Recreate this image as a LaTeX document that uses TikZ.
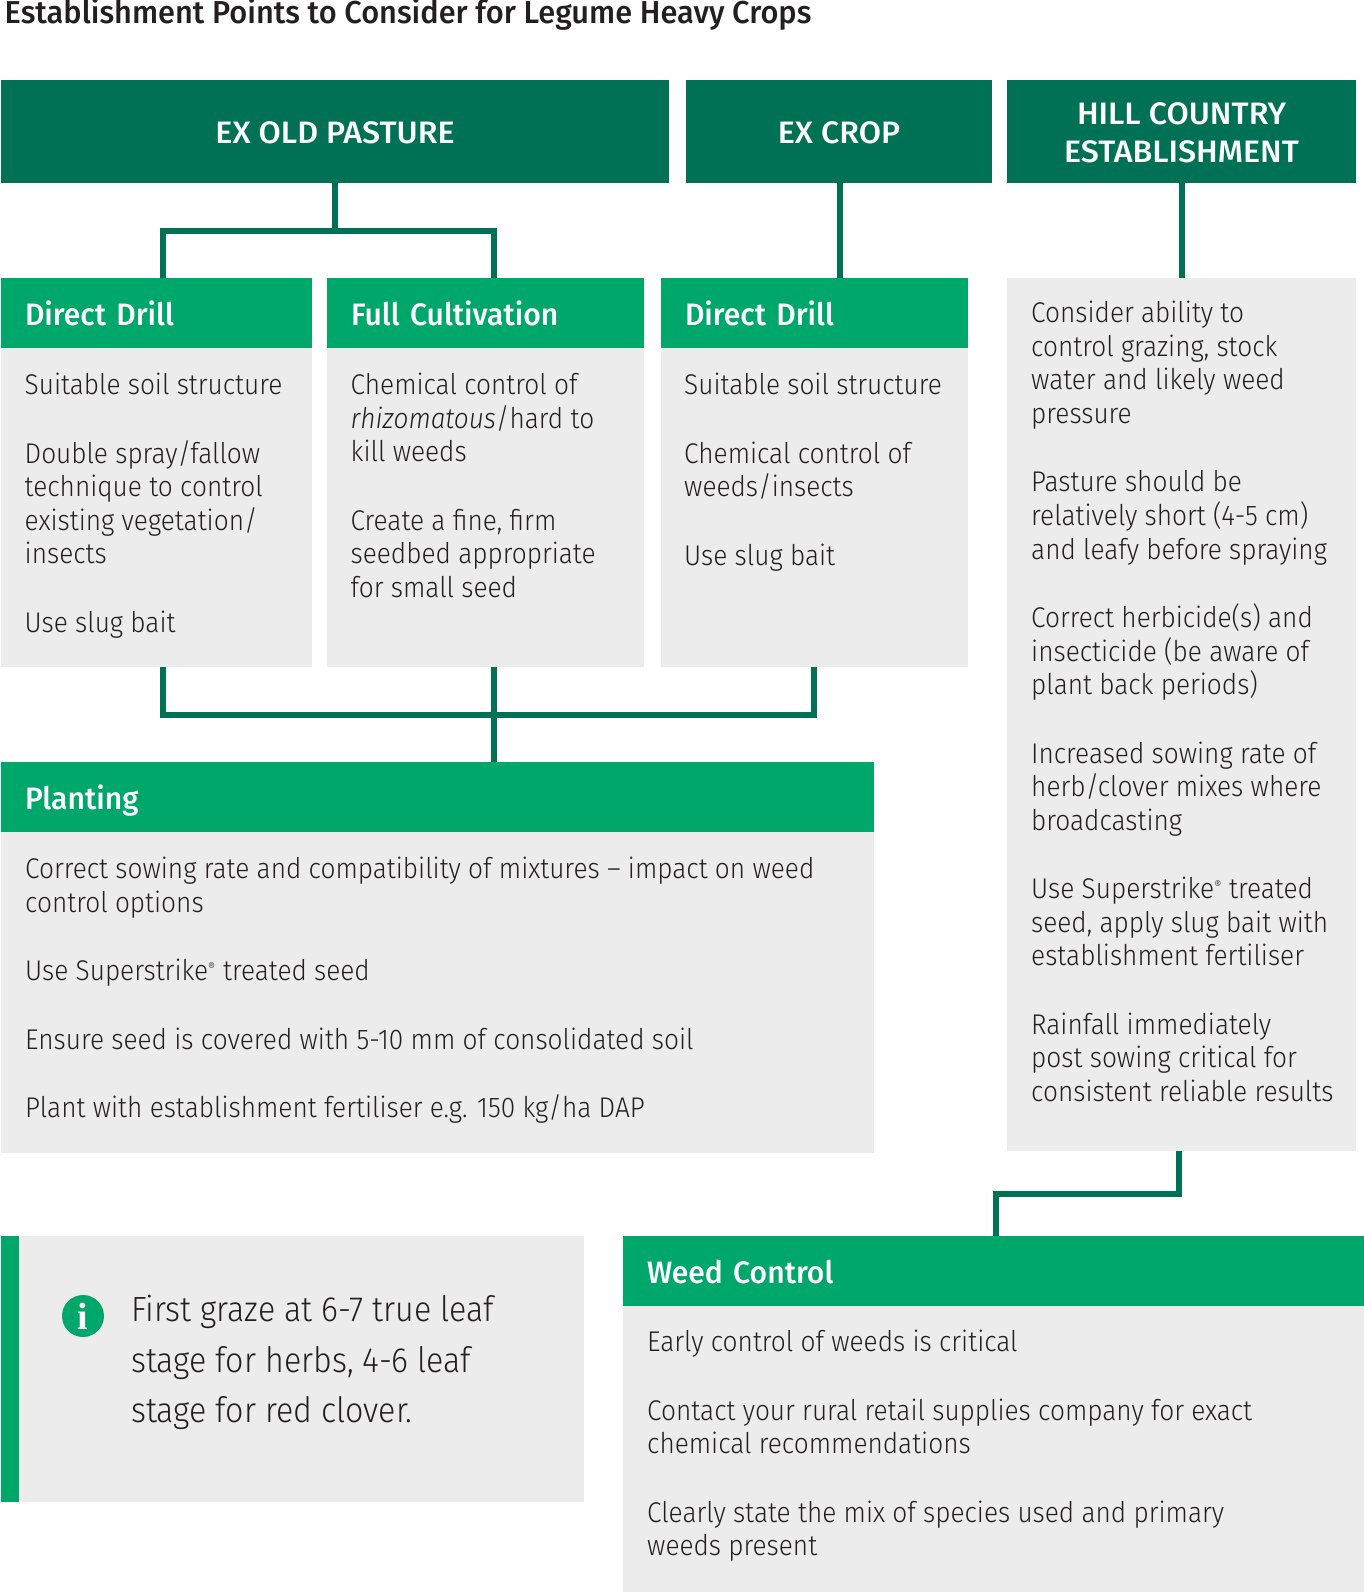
\documentclass[tikz,border=0pt]{standalone}
\usepackage{fontspec}
\setmainfont[FakeStretch=0.92]{Fira Sans Light}
\newfontfamily\headf[FakeStretch=0.97]{Fira Sans Medium}
\newfontfamily\topf[FakeStretch=1.04]{Fira Sans Medium}
\newfontfamily\iconf{Liberation Serif Bold}
\definecolor{dkgreen}{HTML}{007155}
\definecolor{ltgreen}{HTML}{00A76B}
\definecolor{panel}{HTML}{ECECEC}
\definecolor{ink}{HTML}{231F20}
\newcommand{\gap}{\\[34.8pt]}
\newcommand{\reg}{\textsuperscript{\scalebox{0.6}{®}}}
\tikzset{
  box/.style={anchor=north west,inner sep=0pt,outer sep=0pt,draw=none},
  topbox/.style={box,fill=dkgreen,text=white,align=center,
    font=\topf\fontsize{31}{38}\selectfont,text height=63pt,text depth=40pt},
  topboxb/.style={box,fill=dkgreen,text=white,align=center,
    font=\topf\fontsize{31}{38}\selectfont},
  subhead/.style={box,fill=ltgreen,text=white,align=left,
    font=\headf\fontsize{31}{34}\selectfont,text height=47pt,text depth=23pt,
    inner xsep=24pt},
  panelbox/.style={box,fill=panel},
  bodytext/.style={anchor=north west,inner sep=0pt,align=left,text=ink,
    font=\fontsize{28.5}{33.6}\selectfont,
    execute at begin node={\rule{0pt}{22pt}}},
  conn/.style={draw=dkgreen,line width=6pt,line cap=butt,line join=miter},
}
\begin{document}
\begin{tikzpicture}[x=1pt,y=-1pt]
\useasboundingbox (0,0) rectangle (1364,1592);
% title
\node[anchor=base west,inner sep=0pt,text=ink,font=\headf\fontsize{31.7}{34}\selectfont] (title) at (4.5,23.5) {Establishment Points to Consider for Legume Heavy Crops};
% top headers
\node[topbox,minimum width=668pt] (pasture) at (1,80) {EX OLD PASTURE};
\node[topbox,minimum width=306pt] (crop) at (686,80) {EX CROP};
\node[topboxb,minimum width=349pt,minimum height=103pt] (hill) at (1007,80) {\rule{0pt}{25pt}HILL COUNTRY\\ESTABLISHMENT};
% panels
\node[panelbox,minimum width=311pt,minimum height=319pt] (p1) at (1,348) {};
\node[panelbox,minimum width=317pt,minimum height=319pt] (p2) at (327,348) {};
\node[panelbox,minimum width=307pt,minimum height=319pt] (p3) at (661,348) {};
\node[panelbox,minimum width=349pt,minimum height=873pt] (p4) at (1007,278) {};
\node[panelbox,minimum width=873pt,minimum height=321pt] (p5) at (1,832) {};
\node[panelbox,minimum width=583pt,minimum height=266pt] (p6) at (1,1236) {};
\node[panelbox,minimum width=741pt,minimum height=286pt] (p7) at (623,1306) {};
\node[box,fill=ltgreen,minimum width=18pt,minimum height=266pt] (bar) at (1,1236) {};
% sub headers
\node[subhead,text width=263pt] (dd1) at (1,278) {Direct Drill};
\node[subhead,text width=269pt] (fc) at (327,278) {Full Cultivation};
\node[subhead,text width=259pt] (dd2) at (661,278) {Direct Drill};
\node[subhead,text width=825pt] (plant) at (1,762) {Planting};
\node[subhead,text width=693pt] (weed) at (623,1236) {Weed Control};
% body text
\node[bodytext] (t1) at (24.5,373) {Suitable soil structure\gap Double spray/fallow\\technique to control\\existing vegetation/\\insects\gap Use slug bait};
\node[bodytext] (t2) at (350.5,373) {Chemical control of\\\textit{rhizomatous}/hard to\\kill weeds\gap Create a fine, firm\\seedbed appropriate\\for small seed};
\node[bodytext] (t3) at (684,373) {Suitable soil structure\gap Chemical control of\\weeds/insects\gap Use slug bait};
\node[bodytext] (t4) at (1031,301) {Consider ability to\\control grazing, stock\\water and likely weed\\pressure\gap Pasture should be\\relatively short (4-5 cm)\\and leafy before spraying\gap Correct herbicide(s) and\\insecticide (be aware of\\plant back periods)\gap Increased sowing rate of\\herb/clover mixes where\\broadcasting\gap Use Superstrike\reg{} treated\\seed, apply slug bait with\\establishment fertiliser\gap Rainfall immediately\\post sowing critical for\\consistent reliable results};
\node[bodytext] (t5) at (25,857) {Correct sowing rate and compatibility of mixtures – impact on weed\\control options\gap Use Superstrike\reg{} treated seed\gap Ensure seed is covered with 5-10 mm of consolidated soil\gap Plant with establishment fertiliser e.g. 150 kg/ha DAP};
\node[bodytext] (t7) at (647,1330) {Early control of weeds is critical\gap Contact your rural retail supplies company for exact\\chemical recommendations\gap Clearly state the mix of species used and primary\\weeds present};
% info
\node[circle,fill=ltgreen,inner sep=0pt,minimum size=42pt,text=white,font=\iconf\fontsize{38}{38}\selectfont] (icon) at (83,1316) {i};
\node[bodytext,font=\fontsize{35}{50.5}\selectfont,execute at begin node={\rule{0pt}{28pt}}] (info) at (131,1295) {First graze at 6-7 true leaf\\stage for herbs, 4-6 leaf\\stage for red clover.};
% connectors
\coordinate (j1) at (335,230.5);
\coordinate (j2) at (494,714.5);
\draw[conn] (pasture.south -| j1) -- (j1);
\draw[conn] (dd1.north -| 162.5,0) |- (j1 -| 494,0) -- (fc.north -| 494,0);
\draw[conn] (crop.south -| 840,0) -- (dd2.north -| 840,0);
\draw[conn] (hill.south -| 1181.5,0) -- (p4.north -| 1181.5,0);
\draw[conn] (p1.south -| 162.5,0) |- (j2 -| 814,0) -- (p3.south -| 814,0);
\draw[conn] (p2.south -| j2) -- (plant.north -| j2);
\draw[conn] (p4.south -| 1179,0) |- (996,1194) -- (weed.north -| 996,0);
\end{tikzpicture}
\end{document}
